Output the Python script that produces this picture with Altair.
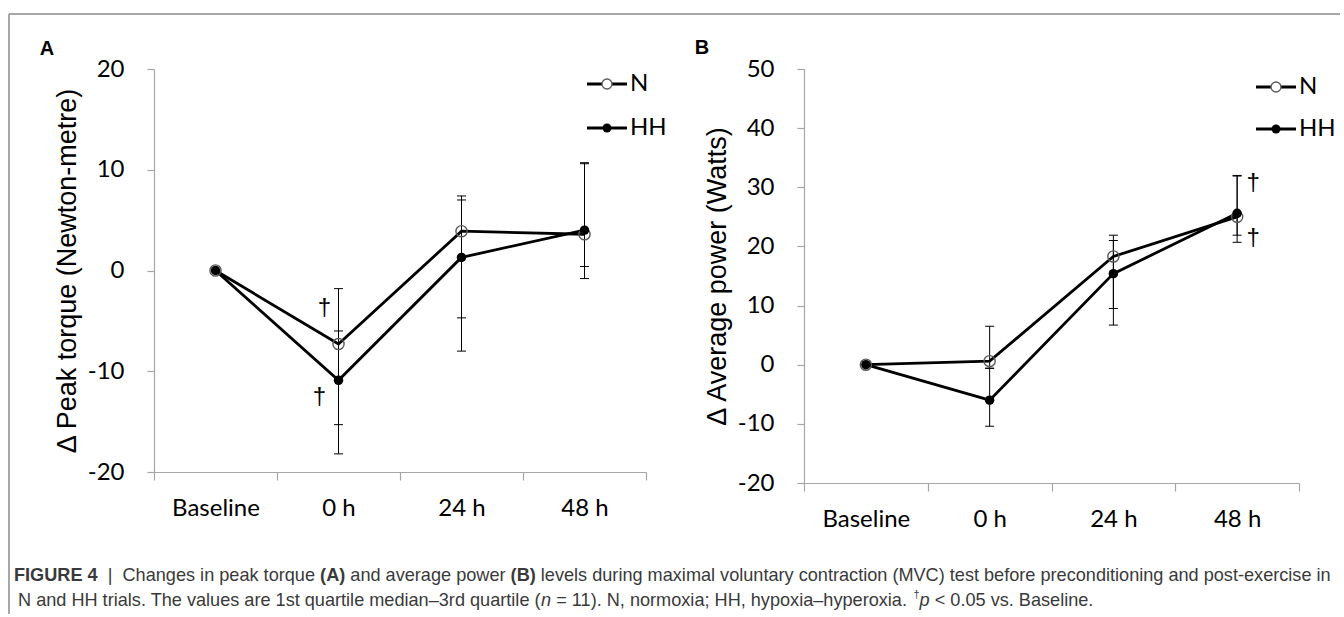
import altair as alt
import pandas as pd

times = ["Baseline", "0 h", "24 h", "48 h"]
series_names = ["N", "HH"]

# Panel A: change in peak torque (Newton-metre) - median, 1st and 3rd quartile
torque_N = [0.0, -7.3, 3.9, 3.6]
torque_HH = [0.0, -10.9, 1.3, 4.0]
torque_N_q1 = [None, -15.3, -4.7, 0.4]
torque_N_q3 = [None, -1.8, 7.4, 10.6]
torque_HH_q1 = [None, -18.2, -8.0, -0.8]
torque_HH_q3 = [None, -6.0, 7.0, 10.7]
torque_sig_time = ["0 h", "0 h"]
torque_sig_value = [-3.7, -12.6]

# Panel B: change in average power (Watts)
power_N = [0.0, 0.6, 18.3, 25.0]
power_HH = [0.0, -6.0, 15.4, 25.6]
power_N_q1 = [None, -0.6, 9.5, 21.9]
power_N_q3 = [None, 6.5, 21.9, 31.9]
power_HH_q1 = [None, -10.4, 6.7, 20.7]
power_HH_q3 = [None, -0.6, 21.0, 32.0]
power_sig_time = ["48 h", "48 h"]
power_sig_value = [30.7, 21.4]

torque_ticks = [-20, -10, 0, 10, 20]
power_ticks = [-20, -10, 0, 10, 20, 30, 40, 50]

caption_line1 = [
    ("FIGURE 4", "bold", "normal"),
    ("  |  ", "normal", "normal"),
    ("Changes in peak torque ", "normal", "normal"),
    ("(A)", "bold", "normal"),
    (" and average power ", "normal", "normal"),
    ("(B)", "bold", "normal"),
    (" levels during maximal voluntary contraction (MVC) test before preconditioning and post-exercise in",
     "normal", "normal"),
]
caption_line2 = [
    ("N and HH trials. The values are 1st quartile median\u20133rd quartile (", "normal", "normal"),
    ("n", "normal", "italic"),
    (" = 11). N, normoxia; HH, hypoxia\u2013hyperoxia. ", "normal", "normal"),
    ("\u2020", "normal", "sup"),
    ("p", "normal", "italic"),
    (" < 0.05 vs. Baseline.", "normal", "normal"),
]


def build(med_N, med_HH, q1_N, q3_N, q1_HH, q3_HH):
    rows = []
    for s, med, q1, q3 in [("N", med_N, q1_N, q3_N), ("HH", med_HH, q1_HH, q3_HH)]:
        for t, m, a, b in zip(times, med, q1, q3):
            rows.append({"time": t, "series": s, "value": m, "q1": a, "q3": b})
    return pd.DataFrame(rows)


def panel(df, sig_t, sig_v, sig_dx, ydomain, yvalues, ytitle, w, h, letter, letter_xy, leg_x, leg_y):
    xscale = alt.Scale(type="band", domain=times, paddingInner=0, paddingOuter=0)
    xaxis = alt.Axis(title=None, tickBand="extent", tickSize=8, labelPadding=16, labelAngle=0)
    yscale = alt.Scale(domain=ydomain, nice=False, zero=False)
    yaxis = alt.Axis(values=yvalues, title=ytitle, grid=False, tickSize=7, labelPadding=23,
                     labelExpr="'' + datum.value", titleAngle=270, titleX=-87, titleY=h / 2,
                     titleAlign="center", titleBaseline="middle")
    x = alt.X("time:N", scale=xscale, axis=xaxis)

    def Y(field):
        return alt.Y(field + ":Q", scale=yscale, axis=yaxis)

    base = alt.Chart(df)
    lines = base.mark_line(color="black", strokeWidth=2.8).encode(x=x, y=Y("value"), detail="series:N")
    err = base.transform_filter("isValid(datum.q1)")
    rules = err.mark_rule(color="black", strokeWidth=1).encode(x=x, y=Y("q1"), y2="q3:Q")
    cap1 = err.mark_tick(color="black", thickness=1, size=9, opacity=1).encode(x=x, y=Y("q1"))
    cap2 = err.mark_tick(color="black", thickness=1, size=9, opacity=1).encode(x=x, y=Y("q3"))
    pts_n = base.transform_filter("datum.series == 'N'").mark_point(
        shape="circle", filled=False, color="#5a5a5a", strokeWidth=1.4, size=125, opacity=1
    ).encode(x=x, y=Y("value"))
    pts_hh = base.transform_filter("datum.series == 'HH'").mark_point(
        shape="circle", filled=True, color="black", size=90, opacity=1
    ).encode(x=x, y=Y("value"))

    layers = [lines, rules, cap1, cap2, pts_n, pts_hh]

    for t, v, dx in zip(sig_t, sig_v, sig_dx):
        d = pd.DataFrame({"time": [t], "value": [v], "mark": ["\u2020"]})
        layers.append(alt.Chart(d).mark_text(font="Liberation Sans", fontSize=24, dx=dx,
                                             baseline="middle", color="black")
                      .encode(x=x, y=Y("value"), text="mark:N"))

    # legend
    for i, name in enumerate(series_names):
        d = pd.DataFrame({"series": [name]})
        yy = leg_y[i]
        layers.append(alt.Chart(d).mark_rule(color="black", strokeWidth=2.8).encode(
            x=alt.value(leg_x[0]), x2=alt.value(leg_x[1]), y=alt.value(yy)))
        if name == "N":
            layers.append(alt.Chart(d).mark_point(shape="circle", filled=True, fill="white",
                                                  stroke="#5a5a5a", strokeWidth=1.3, size=100, opacity=1)
                          .encode(x=alt.value((leg_x[0] + leg_x[1]) / 2), y=alt.value(yy)))
        else:
            layers.append(alt.Chart(d).mark_point(shape="circle", filled=True, color="black",
                                                  size=80, opacity=1)
                          .encode(x=alt.value((leg_x[0] + leg_x[1]) / 2), y=alt.value(yy)))
        layers.append(alt.Chart(d).mark_text(font="Lato", fontSize=24, align="left", baseline="middle",
                                             color="black")
                      .encode(x=alt.value(leg_x[1] + 3), y=alt.value(yy), text="series:N"))

    layers.append(alt.Chart(pd.DataFrame({"t": [letter]})).mark_text(
        font="Liberation Sans", fontSize=20, fontWeight="bold", align="center", baseline="middle",
        color="black").encode(x=alt.value(letter_xy[0]), y=alt.value(letter_xy[1]), text="t:N"))

    return alt.layer(*layers).properties(width=w, height=h)


df_a = build(torque_N, torque_HH, torque_N_q1, torque_N_q3, torque_HH_q1, torque_HH_q3)
df_b = build(power_N, power_HH, power_N_q1, power_N_q3, power_HH_q1, power_HH_q3)

panel_a = panel(df_a, torque_sig_time, torque_sig_value, [-14, -19], [-20, 20], torque_ticks,
                "\u0394 Peak torque (Newton-metre)", 492, 403, "A", (-107, -20),
                (433, 473), (15, 59))
panel_b = panel(df_b, power_sig_time, power_sig_value, [16, 16], [-20, 50], power_ticks,
                "\u0394 Average power (Watts)", 495, 414, "B", (-102, -21),
                (452, 492), (18, 60))

# ---- caption layout: Arial / Liberation Sans advance widths (1/1000 em) ----
W_REG = {" ": 278, "(": 333, ")": 333, ".": 278, ",": 278, ";": 278, "|": 260, "\u2013": 556,
         "\u2020": 556, "<": 584, "=": 584, "-": 333,
         "A": 667, "B": 667, "C": 722, "E": 667, "F": 611, "G": 778, "H": 722, "I": 278,
         "M": 833, "N": 722, "R": 722, "T": 611, "U": 722, "V": 667,
         "a": 556, "b": 556, "c": 500, "d": 556, "e": 556, "f": 278, "g": 556, "h": 556,
         "i": 222, "j": 222, "k": 500, "l": 222, "m": 833, "n": 556, "o": 556, "p": 556,
         "q": 556, "r": 333, "s": 500, "t": 278, "u": 556, "v": 500, "w": 722, "x": 500,
         "y": 500, "z": 500}
W_BOLD = {" ": 278, "(": 333, ")": 333, "A": 722, "B": 722, "F": 611, "I": 278, "G": 778,
          "U": 722, "R": 722, "E": 667, "4": 556}


def em_width(s, bold):
    table = W_BOLD if bold else W_REG
    return sum(table.get(c, 556) for c in s) / 1000.0


line1_em = sum(em_width(t, wgt == "bold") for t, wgt, sty in caption_line1)
cap_fs = (1331 - 14) / line1_em

# positions relative to panel A's plot origin (154, 69)
cap_x0 = [14 - 154, 18 - 154]
cap_y = [576 - 69, 601 - 69]

cap_color = "#3a3a3a"
cap_font = "Liberation Sans"
caption_layers = []
for li, line in enumerate([caption_line1, caption_line2]):
    cx = cap_x0[li]
    for txt, wgt, sty in line:
        fs = cap_fs * (0.6 if sty == "sup" else 1.0)
        lead = len(txt) - len(txt.lstrip(" "))
        shown = txt.strip(" ")
        sx = cx + em_width(" " * lead, wgt == "bold") * fs
        sy = cap_y[li] - (0.35 * cap_fs if sty == "sup" else 0)
        caption_layers.append(
            alt.Chart(pd.DataFrame({"t": [shown]})).mark_text(
                font=cap_font, fontSize=fs, fontWeight=wgt,
                fontStyle="italic" if sty == "italic" else "normal", align="left",
                baseline="middle", color=cap_color
            ).encode(x=alt.value(sx), y=alt.value(sy), text="t:N")
        )
        cx += em_width(txt, wgt == "bold") * fs

one = pd.DataFrame({"k": [0]})
frame_top = alt.Chart(one).mark_rule(color="#8a8a8a", strokeWidth=1.5).encode(
    x=alt.value(-145), x2=alt.value(1186), y=alt.value(-55))
frame_left = alt.Chart(one).mark_rule(color="#8a8a8a", strokeWidth=1.5).encode(
    x=alt.value(-145), y=alt.value(-55), y2=alt.value(545))

panel_a_full = alt.layer(panel_a, frame_top, frame_left, *caption_layers)

chart = alt.hconcat(panel_a_full, panel_b, spacing=158, bounds="flush").properties(
    padding={"left": 8, "top": 13, "right": 0, "bottom": 0}
).configure_view(strokeWidth=0).configure_axis(
    labelFont="Lato", labelFontSize=24, labelColor="black",
    domainColor="#a6a6a6", tickColor="#a6a6a6", domainWidth=1.2, tickWidth=1.2,
    titleFont="Liberation Sans", titleFontSize=27, titleFontWeight="normal", titleColor="black"
)

chart.save("out.html", embed_options={"renderer": "svg", "actions": False})
